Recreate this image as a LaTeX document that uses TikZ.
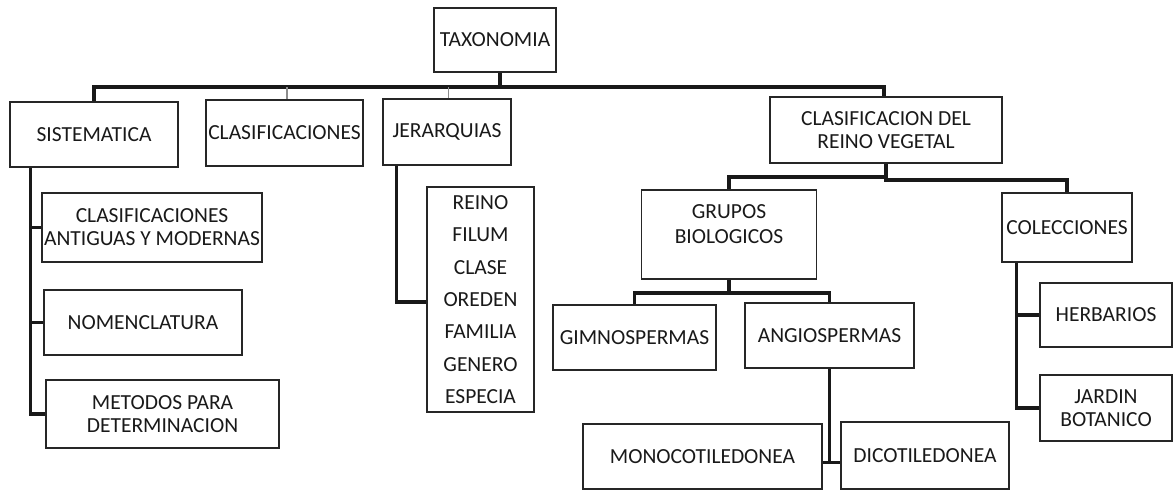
\documentclass[tikz,border=0pt]{standalone}
\usepackage{fontspec}
\setmainfont{Carlito}
\begin{document}
\begin{tikzpicture}[x=1pt,y=-1pt,
  box/.style={draw=black!85,line width=1.6pt,rectangle,inner sep=0pt,align=center,
    font=\fontsize{21.5}{23}\selectfont,text=black!90},
  conn/.style={draw=black!90,line width=3.4pt,line join=miter},
  thinconn/.style={draw=black!45,line width=1.6pt}]
\useasboundingbox (0,0) rectangle (1174,491);
% nodes
\node[box,minimum width=122,minimum height=64] (tax) at (495,40) {TAXONOMIA};
\node[box,minimum width=168,minimum height=65] (sis) at (94,134.5) {SISTEMATICA};
\node[box,minimum width=157,minimum height=66] (cla) at (284.5,133) {CLASIFICACIONES};
\node[box,minimum width=128,minimum height=66] (jer) at (447,132) {JERARQUIAS};
\node[box,minimum width=232,minimum height=66] (crv) at (886,130) {CLASIFICACION DEL\\REINO VEGETAL};
\node[box,minimum width=220,minimum height=69] (cam) at (152,227.5) {CLASIFICACIONES\\ANTIGUAS Y MODERNAS};
\node[box,minimum width=198,minimum height=65] (nom) at (143,322.5) {NOMENCLATURA};
\node[box,minimum width=233,minimum height=68] (met) at (162.5,414) {METODOS PARA\\DETERMINACION};
\node[box,minimum width=107,minimum height=225,font=\fontsize{21.5}{32.3}\selectfont] (lst) at (480.5,299.5)
  {REINO\\FILUM\\CLASE\\OREDEN\\FAMILIA\\GENERO\\ESPECIA};
\node[box,minimum width=175,minimum height=89] (gru) at (729,234.5) {};
\node[align=center,inner sep=0pt,font=\fontsize{21.5}{25}\selectfont,text=black!90] (grutxt) at (729,224) {GRUPOS\\BIOLOGICOS};
\node[box,minimum width=130,minimum height=69] (col) at (1067,227.5) {COLECCIONES};
\node[box,minimum width=163,minimum height=65] (gim) at (634.5,337.5) {GIMNOSPERMAS};
\node[box,minimum width=169,minimum height=65] (ang) at (829.5,335.5) {ANGIOSPERMAS};
\node[box,minimum width=239,minimum height=65] (mon) at (702.5,456.5) {MONOCOTILEDONEA};
\node[box,minimum width=168,minimum height=67] (dic) at (925,455.5) {DICOTILEDONEA};
\node[box,minimum width=132,minimum height=64] (her) at (1106,315) {HERBARIOS};
\node[box,minimum width=132,minimum height=66] (jar) at (1106,408) {JARDIN\\BOTANICO};
% connectors
\coordinate (bus) at (500,87);
\draw[conn] ([xshift=5pt]tax.south) -- (bus) -| (sis.north);
\draw[conn] (bus) -| ([xshift=-2pt]crv.north);
\draw[thinconn] ([xshift=2.5pt]cla.north) -- ([xshift=2.5pt]cla.north |- bus);
\draw[thinconn] ([xshift=1.5pt]jer.north) -- ([xshift=1.5pt]jer.north |- bus);
% sistematica
\coordinate (sv) at ([xshift=21pt]sis.south west);
\draw[conn] (sv) |- (met.west);
\draw[conn] (sv |- cam.west) -- (cam.west);
\draw[conn] (sv |- nom.west) -- (nom.west);
% jerarquias
\coordinate (jv) at ([xshift=14.5pt]jer.south west);
\draw[conn] (jv) |- ([yshift=-2.5pt]lst.west);
% clasificacion reino vegetal
\coordinate (cb) at ([yshift=-16pt]crv.south);
\draw[conn] (crv.south) -- (cb) -| (col.north);
\draw[conn] ([yshift=-13pt]crv.south) -| (gru.north);
% grupos
\coordinate (gb) at ([yshift=-13pt]gru.south);
\draw[conn] (gru.south) -- (gb) -| (gim.north);
\draw[conn] (gb) -| (ang.north);
% angiospermas
\coordinate (ab) at ([yshift=-6pt]mon.east -| ang.south);
\draw[conn] (ang.south) -- (ab);
\draw[conn] ([yshift=-6pt]mon.east) -- ([yshift=-6pt]mon.east -| dic.west);
% colecciones
\coordinate (cv) at ([xshift=15pt]col.south west);
\draw[conn] (cv) |- (jar.west);
\draw[conn] (cv |- her.west) -- (her.west);
\end{tikzpicture}
\end{document}
